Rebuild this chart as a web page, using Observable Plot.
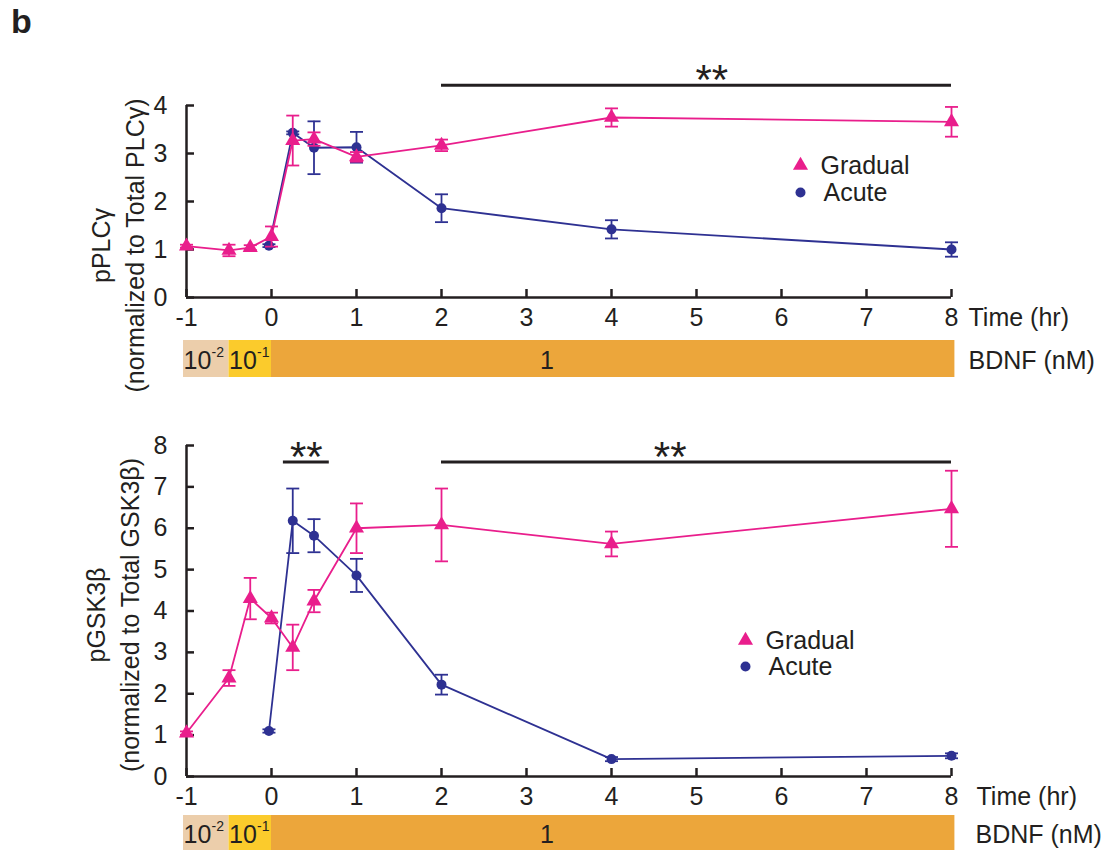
<!DOCTYPE html>
<html>
<head>
<meta charset="utf-8">
<script src="https://cdn.jsdelivr.net/npm/d3@7"></script>
<script src="https://cdn.jsdelivr.net/npm/@observablehq/plot@0.6"></script>
<style>
  html, body { margin: 0; padding: 0; background: #fff; }
  #wrap { position: relative; width: 1106px; height: 850px; overflow: hidden; background: #fff; }
  #wrap svg { position: absolute; left: 0; }
  #panelLetter { position: absolute; left: 11px; top: 2px; font: bold 34px "Liberation Sans", Arial, sans-serif; color: #231F20; }
</style>
</head>
<body>
<div id="wrap"><div id="panelLetter">b</div></div>
<script>
// ---------- data ----------
const xTicks = [-1, 0, 1, 2, 3, 4, 5, 6, 7, 8];
const yTicksPLC = [0, 1, 2, 3, 4];
const yTicksGSK = [0, 1, 2, 3, 4, 5, 6, 7, 8];
const seriesNames = ["Gradual", "Acute"];

const gradualTime = [-1, -0.5, -0.25, 0, 0.25, 0.5, 1, 2, 4, 8];
const acuteTime = [-0.03, 0.25, 0.5, 1, 2, 4, 8];

// pPLCγ
const gradualPLC    = [1.07, 0.98, 1.04, 1.27, 3.27, 3.30, 2.93, 3.17, 3.75, 3.66];
const gradualPLCErr = [0.03, 0.12, 0.05, 0.21, 0.52, 0.14, 0.10, 0.12, 0.19, 0.31];
const acutePLC      = [1.08, 3.43, 3.12, 3.13, 1.86, 1.42, 1.00];
const acutePLCErr   = [0.03, 0.03, 0.55, 0.32, 0.29, 0.19, 0.15];

// pGSK3β
const gradualGSK    = [1.05, 2.38, 4.30, 3.83, 3.12, 4.24, 6.00, 6.08, 5.62, 6.47];
const gradualGSKErr = [0.04, 0.19, 0.50, 0.13, 0.55, 0.27, 0.60, 0.88, 0.30, 0.92];
const acuteGSK      = [1.10, 6.18, 5.82, 4.86, 2.22, 0.42, 0.50];
const acuteGSKErr   = [0.04, 0.78, 0.40, 0.40, 0.24, 0.05, 0.06];

// significance brackets
const sigPLCFrom = [2], sigPLCTo = [8], sigPLCText = ["**"], sigPLCTextAt = [5.18];
const sigGSKFrom = [0.14, 2], sigGSKTo = [0.68, 8], sigGSKText = ["**", "**"], sigGSKTextAt = [0.41, 4.69];

// BDNF dosing bar
const bdnfFrom = [-1.035, -0.5, 0];
const bdnfTo   = [-0.5, 0, 8.04];
const bdnfBase = ["10", "10", "1"];
const bdnfExp  = ["-2", "-1", ""];
const bdnfLabelAt = [-1.035, -0.5, 3.16];

// ---------- styles ----------
const ink = "#231F20", pink = "#E91E8C", blue = "#2E3192";
const bdnfFill = ["#ECCEAB", "#FBCB2C", "#ECA63B"];
const font = '"Liberation Sans", Arial, Helvetica, sans-serif';
const W = 1106, ML = 186, MR = 155;
const capSymbol = {draw(ctx, size) { const w = Math.sqrt(size / Math.PI); ctx.moveTo(-w, 0); ctx.lineTo(w, 0); }};

const wrap = document.getElementById("wrap");

function zip(t, v, e) { return t.map((tt, i) => ({t: tt, v: v[i], e: e[i]})); }

function seriesMarks(data, color, symbol, r) {
  return [
    Plot.ruleX(data, {x: "t", y1: d => d.v - d.e, y2: d => d.v + d.e, stroke: color, strokeWidth: 1.8}),
    Plot.dot(data, {x: "t", y: d => d.v + d.e, symbol: capSymbol, r: 6.5, stroke: color, strokeWidth: 1.8, fill: "none"}),
    Plot.dot(data, {x: "t", y: d => d.v - d.e, symbol: capSymbol, r: 6.5, stroke: color, strokeWidth: 1.8, fill: "none"}),
    Plot.line(data, {x: "t", y: "v", stroke: color, strokeWidth: 1.8}),
    Plot.dot(data, {x: "t", y: "v", symbol, r, fill: color, stroke: "none"})
  ];
}

function panel(o) {
  const g = zip(gradualTime, o.gradual, o.gradualErr);
  const a = zip(acuteTime, o.acute, o.acuteErr);
  const sig = o.sigFrom.map((f, i) => ({from: f, to: o.sigTo[i], text: o.sigText[i], at: o.sigTextAt[i]}));
  const svg = Plot.plot({
    width: W, height: o.height,
    marginLeft: ML, marginRight: MR, marginTop: o.marginTop, marginBottom: o.marginBottom,
    x: {domain: [-1, 8]},
    y: {domain: [0, o.yMax]},
    style: {fontFamily: font, fontSize: "25px", color: ink, background: "transparent", overflow: "visible"},
    marks: [
      Plot.axisX({ticks: xTicks, tickSize: -8, tickPadding: 19, tickFormat: d => String(d), color: ink, strokeWidth: 2.5, fontSize: 25, label: null}),
      Plot.axisY({ticks: o.yTicks, tickSize: -8, tickPadding: 27, tickFormat: d => String(d), color: ink, strokeWidth: 2.5, fontSize: 25, label: null}),
      Plot.ruleY([0], {stroke: ink, strokeWidth: 2.5}),
      Plot.ruleX([-1], {stroke: ink, strokeWidth: 2.5}),
      ...seriesMarks(a, blue, "circle", 5),
      ...seriesMarks(g, pink, "triangle", 5.6),
      Plot.ruleY(sig, {x1: "from", x2: "to", y: () => o.sigLevel, stroke: ink, strokeWidth: 3}),
      Plot.text(sig, {x: "at", y: () => o.sigLevel, text: "text", fontSize: 42, dy: -5, fill: ink}),
      // legend
      Plot.dot([seriesNames[0]], {frameAnchor: "top-left", dx: o.legDx, dy: o.legDy, symbol: "triangle", r: 5.6, fill: pink}),
      Plot.text([seriesNames[0]], {frameAnchor: "top-left", dx: o.legDx + 20, dy: o.legDy, text: d => d, textAnchor: "start", lineAnchor: "middle", fontSize: 25, fill: ink}),
      Plot.dot([seriesNames[1]], {frameAnchor: "top-left", dx: o.legDx, dy: o.legDy + o.legGap, symbol: "circle", r: 5, fill: blue}),
      Plot.text([seriesNames[1]], {frameAnchor: "top-left", dx: o.legDx + 23, dy: o.legDy + o.legGap, text: d => d, textAnchor: "start", lineAnchor: "middle", fontSize: 25, fill: ink}),
      // axis titles
      Plot.text(["Time (hr)"], {frameAnchor: "bottom-right", dx: o.timeDx, dy: 11, text: d => d, textAnchor: "start", lineAnchor: "top", fontSize: 25, fill: ink}),
      Plot.text([o.title], {frameAnchor: "left", dx: o.titleDx, dy: o.titleDy, rotate: -90, text: d => d, textAnchor: "middle", lineAnchor: "middle", lineHeight: 1.35, fontSize: 25, fill: ink})
    ]
  });
  svg.style.top = o.top + "px";
  wrap.appendChild(svg);
}

function bdnfBar(top, height, labelDx) {
  const seg = bdnfFrom.map((f, i) => ({from: f, to: bdnfTo[i], base: bdnfBase[i], exp: bdnfExp[i], at: bdnfLabelAt[i], fill: bdnfFill[i]}));
  const svg = Plot.plot({
    width: W, height,
    marginLeft: ML, marginRight: MR, marginTop: 0, marginBottom: 0,
    x: {domain: [-1, 8], axis: null},
    color: {type: "identity"},
    style: {fontFamily: font, fontSize: "25px", color: ink, background: "transparent"},
    marks: [
      Plot.rect(seg, {x1: "from", x2: "to", fill: "fill"}),
      Plot.text(seg, {x: "at", frameAnchor: "left", text: "base", textAnchor: "start", lineAnchor: "middle", fontSize: 25, fill: ink, dy: 2}),
      Plot.text(seg.filter(d => d.exp), {x: "at", frameAnchor: "left", text: "exp", textAnchor: "start", lineAnchor: "middle", fontSize: 14, fill: ink, dx: 28, dy: -6}),
      Plot.text(["BDNF (nM)"], {frameAnchor: "right", dx: labelDx, text: d => d, textAnchor: "start", lineAnchor: "middle", fontSize: 25, fill: ink, dy: 2})
    ]
  });
  svg.style.top = top + "px";
  wrap.appendChild(svg);
}

panel({
  top: 0, height: 335, marginTop: 105, marginBottom: 38, yMax: 4, yTicks: yTicksPLC,
  gradual: gradualPLC, gradualErr: gradualPLCErr, acute: acutePLC, acuteErr: acutePLCErr,
  sigFrom: sigPLCFrom, sigTo: sigPLCTo, sigText: sigPLCText, sigTextAt: sigPLCTextAt, sigLevel: 4.42,
  legDx: 614, legDy: 60, legGap: 27, timeDx: 17,
  title: "pPLCγ\n(normalized to Total PLCγ)", titleDx: -70, titleDy: 44
});
bdnfBar(340, 37, 17);

panel({
  top: 390, height: 420, marginTop: 55, marginBottom: 34, yMax: 8, yTicks: yTicksGSK,
  gradual: gradualGSK, gradualErr: gradualGSKErr, acute: acuteGSK, acuteErr: acuteGSKErr,
  sigFrom: sigGSKFrom, sigTo: sigGSKTo, sigText: sigGSKText, sigTextAt: sigGSKTextAt, sigLevel: 7.6,
  legDx: 559, legDy: 195, legGap: 26, timeDx: 25,
  title: "pGSK3β\n(normalized to Total GSK3β)", titleDx: -75, titleDy: 4
});
bdnfBar(815, 35, 24);
</script>
</body>
</html>
